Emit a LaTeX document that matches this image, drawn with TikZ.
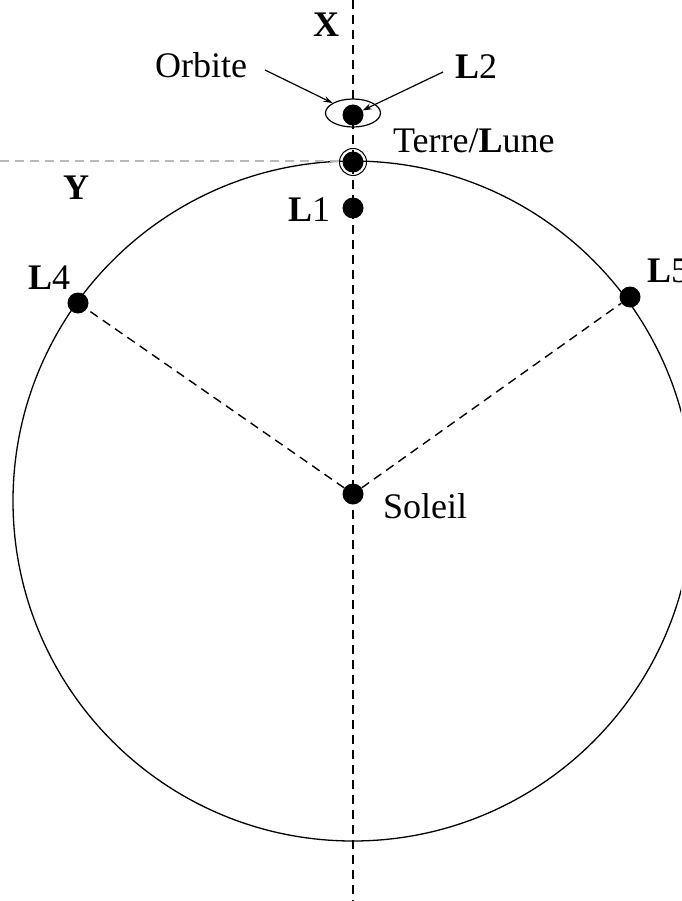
\documentclass[tikz,border=0pt]{standalone}
\usepackage{fontspec}
\setmainfont{Liberation Serif}
\usetikzlibrary{arrows.meta,shapes.geometric}
\begin{document}
\begin{tikzpicture}[x=1pt,y=-1pt,
  dot/.style={circle,fill=black,inner sep=0pt,minimum size=21pt},
  lbl/.style={inner sep=0pt,anchor=base west,font=\fontsize{36}{40}\selectfont},
  dashline/.style={dash pattern=on 9pt off 6pt,line width=1.4pt},
  ptr/.style={line width=1.2pt,-{Stealth[length=9pt,width=6pt]}}]
\useasboundingbox (0,0) rectangle (681,901);
\fill[white] (0,0) rectangle (681,901);
\clip (0,0) rectangle (681,901);
% big orbit
\node[circle,draw,minimum size=680pt,inner sep=0pt,line width=1.3pt] (orbit) at (353,501) {};
% axes
\coordinate (xtop) at (353,0);
\coordinate (xbot) at (353,901);
\coordinate (yleft) at (0,161);
\coordinate (yright) at (340,161);
\draw[dashline] (xtop) -- (xbot);
\draw[dashline,gray!55] (yleft) -- (yright);
% dots
\node[dot] (sun) at (353,494) {};
\node[dot] (l1) at (353,208) {};
\node[dot] (earth) at (353,162) {};
\node[dot] (l2) at (353,115) {};
\node[dot] (l4) at (78,303) {};
\node[dot] (l5) at (630,297) {};
\node[circle,draw,minimum size=27pt,inner sep=0pt,line width=1pt] (ring) at (earth) {};
\node[ellipse,draw,minimum width=55pt,minimum height=28pt,inner sep=0pt,line width=1.2pt] (ell) at (353,113) {};
% dashed radii
\draw[dashline] (sun) -- (l4);
\draw[dashline] (sun) -- (l5);
% labels
\node[lbl] (xlab) at (313,37) {\textbf{X}};
\node[lbl] (ylab) at (63,200) {\textbf{Y}};
\node[lbl] (orblab) at (155,78) {Orbite};
\node[lbl] (l2lab) at (455,79) {\textbf{L}2};
\node[lbl] (earthlab) at (393,153) {Terre/\textbf{L}une};
\node[lbl] (l1lab) at (288,222) {\textbf{L}1};
\node[lbl] (l4lab) at (28,289) {\textbf{L}4};
\node[lbl] (l5lab) at (647,282) {\textbf{L}5};
\node[lbl] (sunlab) at (383,518) {Soleil};
% pointers
\coordinate (orbtail) at (265,70);
\coordinate (l2tail) at (443,72);
\draw[ptr] (orbtail) -- (ell);
\draw[ptr] (l2tail) -- (l2);
\end{tikzpicture}
\end{document}
